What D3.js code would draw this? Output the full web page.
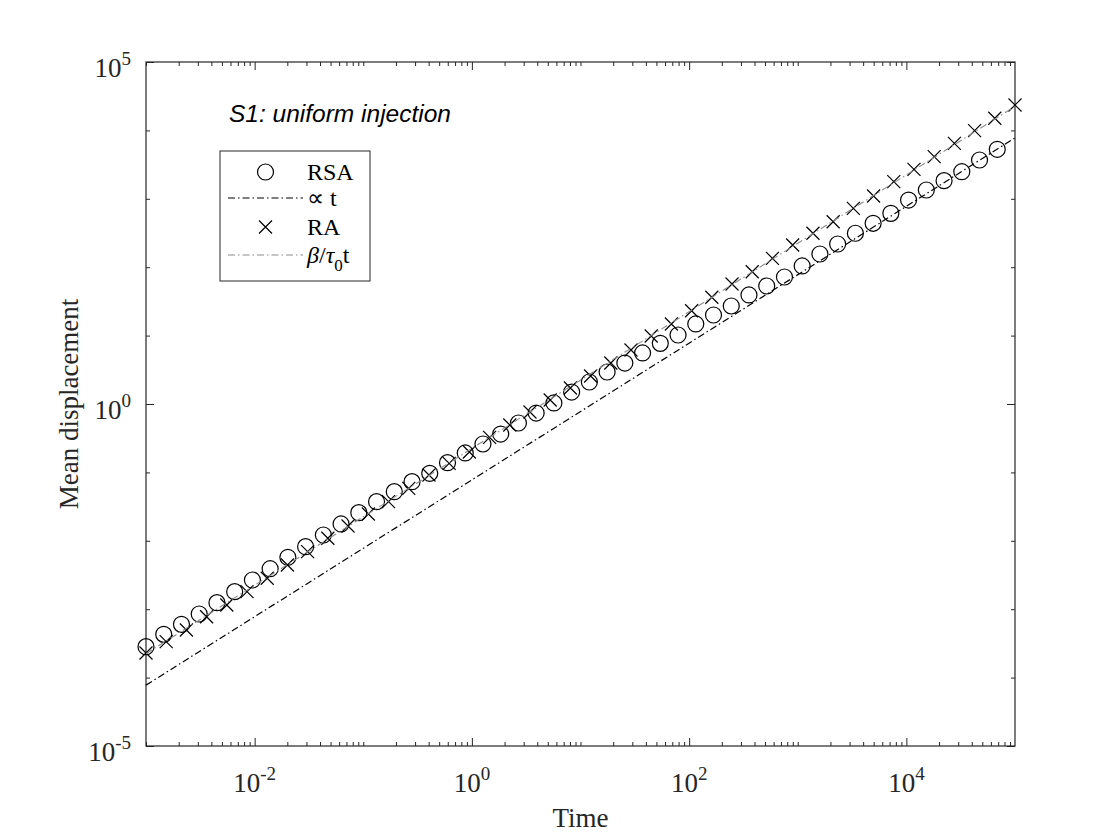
<!DOCTYPE html>
<html>
<head>
<meta charset="utf-8">
<script src="https://cdn.jsdelivr.net/npm/d3@7"></script>
<style>
  body { margin: 0; background: #fff; }
  svg text { font-family: "Liberation Serif", "Times New Roman", serif; fill: #262626; }
</style>
</head>
<body>
<div id="chart"></div>
<script>
// Data, kept as powers of ten (log10 of time / displacement)
const rsaLogTime = [-3.0000, -2.8367, -2.6735, -2.5102, -2.3469, -2.1837, -2.0204, -1.8571, -1.6939, -1.5306,
    -1.3673, -1.2041, -1.0408, -0.8776, -0.7143, -0.5510, -0.3878, -0.2245, -0.0612, 0.1020,
    0.2653, 0.4286, 0.5918, 0.7551, 0.9184, 1.0816, 1.2449, 1.4082, 1.5714, 1.7347,
    1.8980, 2.0612, 2.2245, 2.3878, 2.5510, 2.7143, 2.8776, 3.0408, 3.2041, 3.3673,
    3.5306, 3.6939, 3.8571, 4.0204, 4.1837, 4.3469, 4.5102, 4.6735, 4.8367];
const rsaLogDisp = [-3.548, -3.367, -3.221, -3.070, -2.905, -2.744, -2.573, -2.408, -2.241, -2.086,
    -1.915, -1.754, -1.589, -1.428, -1.282, -1.136, -1.013, -0.858, -0.716, -0.585,
    -0.439, -0.278, -0.132, 0.015, 0.175, 0.322, 0.468, 0.599, 0.746, 0.887,
    1.009, 1.170, 1.301, 1.433, 1.594, 1.725, 1.857, 2.018, 2.193, 2.339,
    2.496, 2.642, 2.788, 2.982, 3.129, 3.265, 3.396, 3.567, 3.724];

const raLogTime = [-3.000, -2.814, -2.628, -2.442, -2.256, -2.070, -1.884, -1.698, -1.512, -1.326,
    -1.140, -0.953, -0.767, -0.581, -0.395, -0.209, -0.023, 0.163, 0.349, 0.535,
    0.721, 0.907, 1.093, 1.279, 1.465, 1.651, 1.837, 2.023, 2.209, 2.395,
    2.581, 2.767, 2.953, 3.140, 3.326, 3.512, 3.698, 3.884, 4.070, 4.256,
    4.442, 4.628, 4.814, 5.000];
const raLogDisp = [-3.640, -3.475, -3.304, -3.110, -2.939, -2.744, -2.548, -2.354, -2.159, -1.963,
    -1.784, -1.608, -1.428, -1.233, -1.038, -0.867, -0.702, -0.487, -0.307, -0.117,
    0.058, 0.234, 0.409, 0.599, 0.789, 0.994, 1.170, 1.364, 1.560, 1.754,
    1.934, 2.130, 2.325, 2.496, 2.665, 2.861, 3.041, 3.250, 3.431, 3.616,
    3.811, 3.996, 4.177, 4.371];

// reference lines (end points)
const alphaLogTime = [-3, 5];
const alphaLogDisp = [-4.11, 3.89];
const betaLogTime = [-3, 5];
const betaLogDisp = [-3.65, 4.35];

// labelled ticks
const xLabelExps = [-2, 0, 2, 4];
const yLabelExps = [-5, 0, 5];

const width = 1120;
const height = 840;
const margin = { top: 62, right: 105, bottom: 94, left: 146 };
const ink = "#262626";

const toPoints = (lt, ld) => lt.map((e, i) => ({ t: Math.pow(10, e), d: Math.pow(10, ld[i]) }));
const rsa = toPoints(rsaLogTime, rsaLogDisp);
const ra = toPoints(raLogTime, raLogDisp);
const alpha = toPoints(alphaLogTime, alphaLogDisp);
const beta = toPoints(betaLogTime, betaLogDisp);

const svg = d3.select("#chart")
    .append("svg")
    .attr("width", width)
    .attr("height", height);

svg.append("rect").attr("width", width).attr("height", height).attr("fill", "#fff");

const x = d3.scaleLog()
    .domain([1e-3, 1e5])
    .range([margin.left, width - margin.right]);

const y = d3.scaleLog()
    .domain([1e-5, 1e5])
    .range([height - margin.bottom, margin.top]);

const x0 = x.range()[0], x1 = x.range()[1];
const y0 = y.range()[0], y1 = y.range()[1];

// tick values
const xMinor = [], xMajor = [];
for (let e = -3; e <= 4; e++) {
    for (let m = 1; m <= 9; m++) {
        const v = m * Math.pow(10, e);
        if (m === 1 && xLabelExps.includes(e)) xMajor.push(v); else xMinor.push(v);
    }
}
const yMinor = [], yMajor = [];
for (let e = -5; e <= 5; e++) {
    (yLabelExps.includes(e) ? yMajor : yMinor).push(Math.pow(10, e));
}

function tickAxis(axis, vals, size, transform) {
    const g = svg.append("g")
        .attr("transform", transform)
        .call(axis.tickValues(vals).tickSize(-size).tickFormat(""));
    g.select(".domain").remove();
    g.selectAll("line").attr("stroke", ink).attr("stroke-width", 1);
}

tickAxis(d3.axisBottom(x), xMinor, 4, `translate(0,${y0})`);
tickAxis(d3.axisBottom(x), xMajor, 8, `translate(0,${y0})`);
tickAxis(d3.axisTop(x), xMinor, 4, `translate(0,${y1})`);
tickAxis(d3.axisTop(x), xMajor, 8, `translate(0,${y1})`);
tickAxis(d3.axisLeft(y), yMinor, 4, `translate(${x0},0)`);
tickAxis(d3.axisLeft(y), yMajor, 8, `translate(${x0},0)`);
tickAxis(d3.axisRight(y), yMinor, 4, `translate(${x1},0)`);
tickAxis(d3.axisRight(y), yMajor, 8, `translate(${x1},0)`);

// box
svg.append("rect")
    .attr("x", x0).attr("y", y1)
    .attr("width", x1 - x0).attr("height", y0 - y1)
    .attr("fill", "none").attr("stroke", ink).attr("stroke-width", 1.2);

// tick labels 10^n
function powerLabel(sel, exp) {
    sel.append("tspan").text("10");
    sel.append("tspan").attr("dy", -12).attr("font-size", 19).text(String(exp));
}

xLabelExps.forEach(e => {
    svg.append("text")
        .attr("x", x(Math.pow(10, e)))
        .attr("y", y0 + 46)
        .attr("text-anchor", "middle")
        .attr("font-size", 27)
        .call(powerLabel, e);
});

yLabelExps.forEach(e => {
    svg.append("text")
        .attr("x", x0 - 15)
        .attr("y", y(Math.pow(10, e)) + 15)
        .attr("text-anchor", "end")
        .attr("font-size", 27)
        .call(powerLabel, e);
});

// axis titles
svg.append("text")
    .attr("x", (x0 + x1) / 2)
    .attr("y", 827)
    .attr("text-anchor", "middle")
    .attr("font-size", 27)
    .text("Time");

svg.append("text")
    .attr("transform", `translate(78,${(y0 + y1) / 2}) rotate(-90)`)
    .attr("text-anchor", "middle")
    .attr("font-size", 27)
    .text("Mean displacement");

// series
const line = d3.line().x(d => x(d.t)).y(d => y(d.d));

svg.append("g").selectAll("circle")
    .data(rsa)
    .join("circle")
    .attr("cx", d => x(d.t))
    .attr("cy", d => y(d.d))
    .attr("r", 8)
    .attr("fill", "none")
    .attr("stroke", "#000")
    .attr("stroke-width", 1.2);

svg.append("path")
    .datum(alpha)
    .attr("fill", "none")
    .attr("stroke", "#000")
    .attr("stroke-width", 1.2)
    .attr("stroke-dasharray", "7,3,1.5,3")
    .attr("d", line);

const cross = (g, cx, cy, s) => {
    g.append("path")
        .attr("d", `M${cx - s},${cy - s}L${cx + s},${cy + s}M${cx - s},${cy + s}L${cx + s},${cy - s}`)
        .attr("stroke", "#000")
        .attr("stroke-width", 1.2)
        .attr("fill", "none");
};

const raG = svg.append("g");
ra.forEach(d => cross(raG, x(d.t), y(d.d), 6.5));

svg.append("path")
    .datum(beta)
    .attr("fill", "none")
    .attr("stroke", "#8c8c8c")
    .attr("stroke-width", 1.1)
    .attr("stroke-dasharray", "7,3,1.5,3")
    .attr("d", line);

// title inside axes (sans italic, set as style so the css rule does not win)
svg.append("text")
    .attr("x", 229)
    .attr("y", 122)
    .style("font-family", "'Liberation Sans', Arial, sans-serif")
    .style("font-style", "italic")
    .style("fill", "#000")
    .attr("font-size", 24.5)
    .text("S1: uniform injection");

// legend
const lg = svg.append("g").attr("transform", "translate(220,151)");
lg.append("rect")
    .attr("width", 150).attr("height", 130)
    .attr("fill", "#fff").attr("stroke", ink).attr("stroke-width", 1);

const rowY = [21, 47, 76, 104];
const sx0 = 8, sx1 = 83, tx = 87;

lg.append("circle").attr("cx", (sx0 + sx1) / 2).attr("cy", rowY[0]).attr("r", 8)
    .attr("fill", "none").attr("stroke", "#000").attr("stroke-width", 1.2);
lg.append("line").attr("x1", sx0).attr("x2", sx1).attr("y1", rowY[1]).attr("y2", rowY[1])
    .attr("stroke", "#000").attr("stroke-width", 1.2).attr("stroke-dasharray", "7,3,1.5,3");
cross(lg, (sx0 + sx1) / 2, rowY[2], 6.5);
lg.append("line").attr("x1", sx0).attr("x2", sx1).attr("y1", rowY[3]).attr("y2", rowY[3])
    .attr("stroke", "#8c8c8c").attr("stroke-width", 1.1).attr("stroke-dasharray", "7,3,1.5,3");

const lt = (i) => lg.append("text").attr("x", tx).attr("y", rowY[i] + 8).attr("font-size", 24).style("fill", "#000");
lt(0).text("RSA");
lt(1).text("\u221D t");
lt(2).text("RA");
const bt = lt(3);
bt.append("tspan").attr("font-style", "italic").text("\u03B2");
bt.append("tspan").text("/");
bt.append("tspan").attr("font-style", "italic").text("\u03C4");
bt.append("tspan").attr("dy", 8).attr("font-size", 17).text("0");
bt.append("tspan").attr("dy", -8).text("t");
</script>
</body>
</html>
